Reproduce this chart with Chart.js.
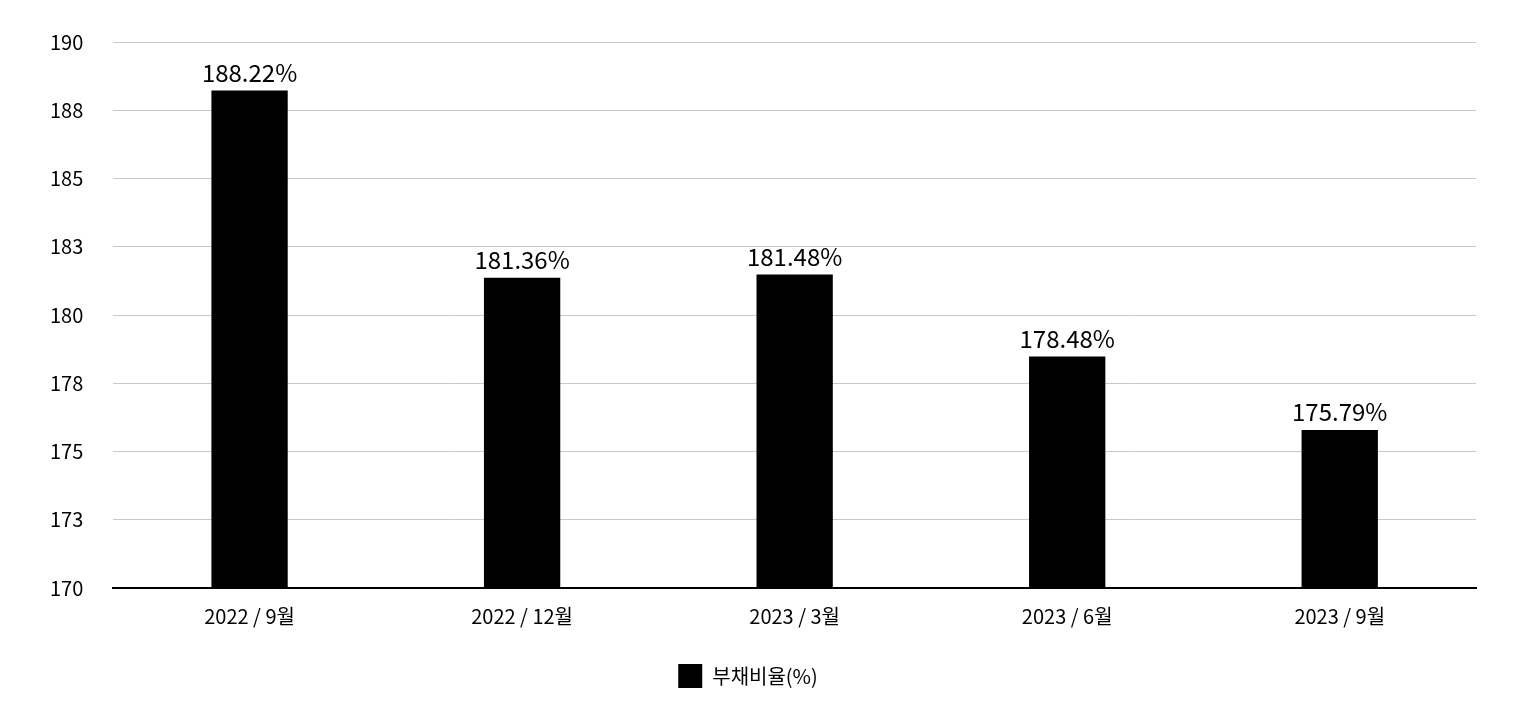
<!DOCTYPE html>
<html><head><meta charset="utf-8">
<script src="https://cdn.jsdelivr.net/npm/chart.js@4"></script>
<style>html,body{margin:0;padding:0;background:#fff}#w{width:1518px;height:718px}</style>
</head><body><div id="w"><canvas id="c"></canvas></div>
<script>
const categories = ["2022 / 9월","2022 / 12월","2023 / 3월","2023 / 6월","2023 / 9월"];
const values = [188.22,181.36,181.48,178.48,175.79];
const seriesName = "부채비율(%)";
const FONT = "'Noto Sans CJK KR', 'Liberation Sans', Arial, sans-serif";
const labelPlugin = {
  id:'vlabels',
  afterDatasetsDraw(chart){
    const ctx = chart.ctx, meta = chart.getDatasetMeta(0);
    ctx.save();
    ctx.font = "24px " + FONT; ctx.fillStyle = "#000"; ctx.textAlign="center"; ctx.textBaseline="bottom";
    meta.data.forEach((b,i)=>{ ctx.fillText(values[i].toFixed(2)+"%", b.x, b.y-6); });
    ctx.restore();
  }
};
new Chart(document.getElementById('c'),{
  type:'bar',
  data:{labels:categories,datasets:[{label:seriesName,data:values,backgroundColor:'#000',borderColor:'#000',categoryPercentage:1,barPercentage:0.28}]},
  options:{
    responsive:true,maintainAspectRatio:false,animation:false,
    layout:{padding:{left:20,right:42,top:36,bottom:20}},
    scales:{
      x:{grid:{display:false},border:{color:'#000',width:2},ticks:{color:'#000',font:{size:20,family:FONT},padding:8}},
      y:{min:170,max:190,ticks:{stepSize:2.5,color:'#000',font:{size:20,family:FONT},padding:30,callback:v=>Math.round(v)},
         grid:{color:'#c8c8c8',drawTicks:false},border:{display:false}}
    },
    plugins:{
      legend:{position:'bottom',labels:{color:'#000',font:{size:20,family:FONT},boxWidth:24,boxHeight:24,padding:28}},
      tooltip:{enabled:false}
    }
  },
  plugins:[labelPlugin]
});
</script></body></html>
